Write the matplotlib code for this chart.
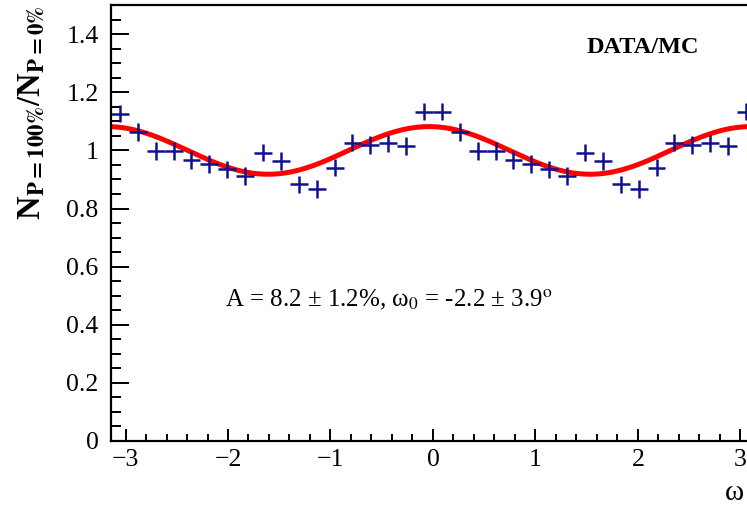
import numpy as np
import matplotlib
matplotlib.use('Agg')
import matplotlib.pyplot as plt
from matplotlib.ticker import MultipleLocator

plt.rcParams['font.family'] = ['Liberation Serif', 'DejaVu Serif']
plt.rcParams['mathtext.fontset'] = 'stix'

# 36 bins in omega from -pi to pi
nbins = 36
edges = np.linspace(-np.pi, np.pi, nbins + 1)
centers = 0.5 * (edges[1:] + edges[:-1])
half_width = 0.5 * (edges[1] - edges[0])

ratio = [1.127, 1.064, 0.998, 0.998, 0.967, 0.953, 0.935, 0.912, 0.992,
         0.964, 0.883, 0.867, 0.941, 1.027, 1.018, 1.024, 1.015, 1.133,
         1.133, 1.064, 0.998, 0.998, 0.967, 0.953, 0.935, 0.912, 0.992,
         0.964, 0.883, 0.867, 0.941, 1.027, 1.018, 1.024, 1.015, 1.133]
ratio_err = [0.030] * nbins

# fit result: 1 + A cos(2(w - w0))
A = 0.082
w0 = np.deg2rad(-2.2)

fig = plt.figure(figsize=(7.47, 5.08), dpi=100)
ax = fig.add_axes([0.1486, 0.1319, 0.862, 0.858])

ax.errorbar(centers, ratio, xerr=half_width, yerr=ratio_err, fmt='none',
            ecolor='#101090', elinewidth=1.8, capsize=0, zorder=3)

w = np.linspace(-np.pi, np.pi, 400)
ax.plot(w, 1 + A * np.cos(2 * (w - w0)), color='red', lw=3.6, zorder=2)

ax.set_xlim(-np.pi, np.pi)
ax.set_ylim(0, 1.5)
ax.xaxis.set_major_locator(MultipleLocator(1))
ax.xaxis.set_minor_locator(MultipleLocator(0.2))
ax.yaxis.set_major_locator(MultipleLocator(0.2))
ax.yaxis.set_minor_locator(MultipleLocator(0.05))
ax.yaxis.set_major_formatter(matplotlib.ticker.FuncFormatter(
    lambda v, p: '0' if abs(v) < 1e-9 else ('1' if abs(v - 1) < 1e-9 else f'{v:.1f}')))

ax.tick_params(which='both', direction='in', top=False, right=False,
               width=1.4, labelsize=18.5)
ax.tick_params(axis='y', which='major', length=13, pad=9)
ax.tick_params(axis='y', which='minor', length=7)
ax.tick_params(axis='x', which='major', length=9, pad=6)
ax.tick_params(axis='x', which='minor', length=5)
for s in ax.spines.values():
    s.set_linewidth(1.6)

ax.set_ylabel(r'N$_{\mathbf{P=100\%}}$/N$_{\mathbf{P=0\%}}$', fontsize=23.5,
              fontweight='bold', loc='top')
ax.yaxis.set_label_coords(-0.10, 1.0)
ax.set_xlabel('ω', fontsize=21, loc='right')
ax.xaxis.label.set_ha('left')
ax.xaxis.set_label_coords(0.953, -0.09)

ax.text(2.05, 1.355, 'DATA/MC', fontsize=17.5, fontweight='bold',
        ha='center', va='center')
ax.text(-2.03, 0.462, 'A = 8.2 ± 1.2%, ω$_{0}$ = -2.2 ± 3.9$^{\\mathrm{o}}$',
        fontsize=18, ha='left', va='baseline')

fig.savefig('out.png', dpi=100)
